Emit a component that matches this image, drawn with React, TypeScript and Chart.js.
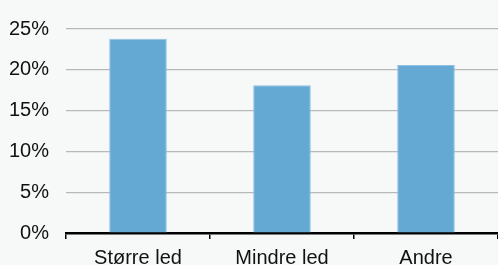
import React, { useEffect, useRef } from "react";
import { Chart, registerables } from "chart.js";

Chart.register(...registerables);

const categories = ["Større led", "Mindre led", "Andre"];
const values = [23.8, 18.1, 20.6];
const yTicks = [0, 5, 10, 15, 20, 25];

export default function App() {
  const ref = useRef<HTMLCanvasElement | null>(null);

  useEffect(() => {
    document.body.style.margin = "0";
    document.body.style.background = "#f7f8f8";
    const canvas = ref.current;
    if (!canvas) return;
    const chart = new Chart(canvas, {
      type: "bar",
      data: {
        labels: categories,
        datasets: [
          {
            data: values,
            backgroundColor: "#64a9d4",
            borderColor: "#8ec2e2",
            borderWidth: 1,
            categoryPercentage: 1,
            barPercentage: 0.4,
          },
        ],
      },
      options: {
        responsive: false,
        animation: false,
        events: [],
        layout: { padding: { top: 25, right: 0, left: 0, bottom: 0 } },
        plugins: { legend: { display: false }, tooltip: { enabled: false } },
        scales: {
          x: {
            grid: {
              display: true,
              drawOnChartArea: false,
              drawTicks: true,
              tickLength: 6,
              color: "#000",
              lineWidth: 1.5,
              offset: true,
            },
            border: { display: true, color: "#000", width: 2.5 },
            ticks: {
              color: "#111",
              font: { family: "'Liberation Sans', Arial, sans-serif", size: 20 },
              padding: 7,
              maxRotation: 0,
            },
            afterFit: (scale: any) => {
              scale.height = 32;
            },
          },
          y: {
            min: 0,
            max: 25,
            afterBuildTicks: (scale: any) => {
              scale.ticks = yTicks.map((v) => ({ value: v }));
            },
            grid: {
              color: "#b8b8b8",
              lineWidth: 1.2,
              drawTicks: false,
            },
            border: { display: false },
            ticks: {
              color: "#111",
              font: { family: "'Liberation Sans', Arial, sans-serif", size: 20 },
              padding: 17,
              callback: (v: any) => v + "%",
            },
            afterFit: (scale: any) => {
              scale.width = 66;
            },
          },
        },
      },
    });
    return () => chart.destroy();
  }, []);

  return <canvas ref={ref} width={498} height={265} style={{ display: "block" }} />;
}
